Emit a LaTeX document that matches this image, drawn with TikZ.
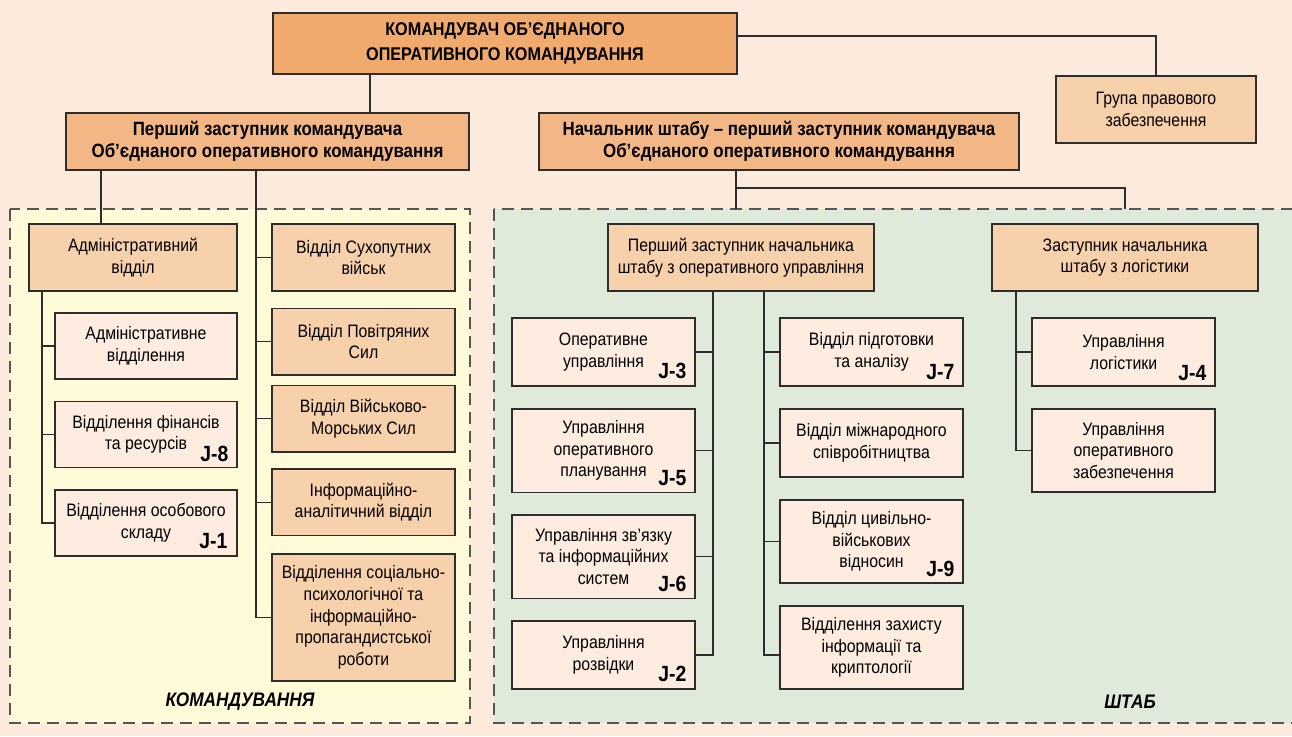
\documentclass[tikz,border=0pt]{standalone}
\usepackage{fontspec}
\setmainfont{Liberation Sans}[FakeStretch=0.88]
\usepackage{xcolor}
\usetikzlibrary{calc}
\definecolor{PageBg}{RGB}{252,235,221}
\definecolor{CmdBg}{RGB}{255,250,215}
\definecolor{StaffBg}{RGB}{224,234,219}
\definecolor{TopCol}{RGB}{240,170,110}
\definecolor{DepCol}{RGB}{243,183,133}
\definecolor{SecCol}{RGB}{247,208,172}
\definecolor{LeafCol}{RGB}{253,236,223}
\definecolor{RuleCol}{RGB}{45,45,45}
\definecolor{DashCol}{RGB}{85,85,85}
\tikzset{
  ocbox/.style={draw=RuleCol, line width=0.75pt, align=center, inner sep=0pt, font=\fontsize{9}{10.8}\selectfont},
  octop/.style={ocbox, fill=TopCol, font=\bfseries\fontsize{9.2}{12.3}\selectfont},
  ocdep/.style={ocbox, fill=DepCol, font=\bfseries\fontsize{9.6}{10.8}\selectfont},
  ocsec/.style={ocbox, fill=SecCol},
  ocleaf/.style={ocbox, fill=LeafCol},
  ocline/.style={draw=RuleCol, line width=0.65pt},
  ocpanel/.style={draw=DashCol, line width=0.75pt, dash pattern=on 6pt off 3.5pt},
  ocj/.style={font=\bfseries\fontsize{11}{11}\selectfont, inner sep=0pt, anchor=base east},
  ocarea/.style={font=\bfseries\itshape\fontsize{9.8}{9.8}\selectfont, inner sep=0pt}
}

\begin{document}
\begin{tikzpicture}[x=0.5pt,y=-0.5pt]
  \clip (0,0) rectangle (1292,736);
  \fill[PageBg] (0,0) rectangle (1292,736);
  \draw[ocpanel, fill=CmdBg] (10,209) rectangle (470,723);
  \draw[ocpanel, fill=StaffBg] (494,209) rectangle (1320,723);

  \node[octop, minimum width=232pt, minimum height=30.5pt] (top) at (505,43.5) {КОМАНДУВАЧ ОБ’ЄДНАНОГО\\ОПЕРАТИВНОГО КОМАНДУВАННЯ};
  \node[ocdep, minimum width=201.5pt, minimum height=28.5pt] (fdep) at (267.5,141.5) {Перший заступник командувача\\Об’єднаного оперативного командування};
  \node[ocdep, minimum width=240pt, minimum height=28.5pt] (cos) at (779,141.5) {Начальник штабу – перший заступник командувача\\Об’єднаного оперативного командування};
  \node[ocsec, minimum width=100pt, minimum height=33.5pt] (legal) at (1156,109.5) {Група правового\\забезпечення};

  \node[ocsec, minimum width=104pt, minimum height=33.5pt] (admin) at (133,257.5) {Адміністративний\\відділ};
  \node[ocleaf, minimum width=91pt, minimum height=33pt] (a1) at (146,346) {Адміністративне\\відділення};
  \node[ocleaf, minimum width=91pt, minimum height=33pt] (a2) at (146,434.5) {Відділення фінансів\\та ресурсів};
  \node[ocleaf, minimum width=91pt, minimum height=33pt] (a3) at (146,523) {Відділення особового\\складу};
  \node[ocsec, minimum width=91.5pt, minimum height=33.5pt] (c1) at (363.5,257.5) {Відділ Сухопутних\\військ};
  \node[ocsec, minimum width=91.5pt, minimum height=33.25pt] (c2) at (363.5,341.75) {Відділ Повітряних\\Сил};
  \node[ocsec, minimum width=91.5pt, minimum height=33.25pt] (c3) at (363.5,418.75) {Відділ Військово-\\Морських Сил};
  \node[ocsec, minimum width=91.5pt, minimum height=33.25pt] (c4) at (363.5,502.25) {Інформаційно-\\аналітичний відділ};
  \node[ocsec, minimum width=91.5pt, minimum height=63.5pt] (c5) at (363.5,617.5) {Відділення соціально-\\психологічної та\\інформаційно-\\пропагандистської\\роботи};
  \node[ocarea] (cmd) at (240,702) {КОМАНДУВАННЯ};

  \node[ocsec, minimum width=133pt, minimum height=33.5pt] (ops) at (741,257.5) {Перший заступник начальника\\штабу з оперативного управління};
  \node[ocsec, minimum width=133pt, minimum height=33.5pt] (log) at (1125,257.5) {Заступник начальника\\штабу з логістики};
  \node[ocleaf, minimum width=91.5pt, minimum height=34pt] (s1) at (603.5,352) {Оперативне\\управління};
  \node[ocleaf, minimum width=91.5pt, minimum height=41.75pt] (s2) at (603.5,450.5) {Управління\\оперативного\\планування};
  \node[ocleaf, minimum width=91.5pt, minimum height=41.75pt] (s3) at (603.5,556.5) {Управління зв’язку\\та інформаційних\\систем};
  \node[ocleaf, minimum width=91.5pt, minimum height=34pt] (s4) at (603.5,655) {Управління\\розвідки};
  \node[ocleaf, minimum width=91.5pt, minimum height=34pt] (t1) at (871.5,352) {Відділ підготовки\\та аналізу};
  \node[ocleaf, minimum width=91.5pt, minimum height=34pt] (t2) at (871.5,443) {Відділ міжнародного\\співробітництва};
  \node[ocleaf, minimum width=91.5pt, minimum height=41.5pt] (t3) at (871.5,541.5) {Відділ цивільно-\\військових\\відносин};
  \node[ocleaf, minimum width=91.5pt, minimum height=41.5pt] (t4) at (871.5,647.5) {Відділення захисту\\інформації та\\криптології};
  \node[ocleaf, minimum width=91.5pt, minimum height=34pt] (l1) at (1123.5,352) {Управління\\логістики};
  \node[ocleaf, minimum width=91.5pt, minimum height=41.5pt] (l2) at (1123.5,450.5) {Управління\\оперативного\\забезпечення};
  \node[ocarea] (staff) at (1130,702) {ШТАБ};

  \node[ocj] (j8) at ($(a2.south east)+(-9,-7)$) {J-8};
  \node[ocj] (j1) at ($(a3.south east)+(-10,-8)$) {J-1};
  \node[ocj] (j3) at ($(s1.south east)+(-9,-8)$) {J-3};
  \node[ocj] (j5) at ($(s2.south east)+(-9,-8)$) {J-5};
  \node[ocj] (j6) at ($(s3.south east)+(-9,-8)$) {J-6};
  \node[ocj] (j2) at ($(s4.south east)+(-9,-8)$) {J-2};
  \node[ocj] (j7) at ($(t1.south east)+(-9,-7)$) {J-7};
  \node[ocj] (j9) at ($(t3.south east)+(-9,-7)$) {J-9};
  \node[ocj] (j4) at ($(l1.south east)+(-9,-6)$) {J-4};

  \coordinate (kTop) at (370,0);
  \coordinate (kLeg) at (1156,36);
  \coordinate (kAdm) at (101,0);
  \coordinate (kCol) at (256,0);
  \coordinate (kSub) at (42,0);
  \coordinate (kBus) at (736,188);
  \coordinate (kCut) at (736,209);
  \coordinate (kOps) at (713,0);
  \coordinate (kTr) at (764,0);
  \coordinate (kLog) at (1016,0);

  \draw[ocline] (top.south -| kTop) -- (fdep.north -| kTop);
  \draw[ocline] (top.east |- kLeg) -- (kLeg) -- (legal.north);
  \draw[ocline] (fdep.south -| kAdm) -- (admin.north -| kAdm);
  \draw[ocline] (fdep.south -| kCol) |- (c5.west);
  \foreach \n in {c1,c2,c3,c4} \draw[ocline] (\n.west -| kCol) -- (\n.west);
  \draw[ocline] (admin.south -| kSub) |- (a3.west);
  \foreach \n in {a1,a2} \draw[ocline] (\n.west -| kSub) -- (\n.west);
  \draw[ocline] (cos.south -| kBus) -- (kCut);
  \draw[ocline] (kBus) -| (log.north |- kCut);
  \draw[ocline] (ops.south -| kOps) |- (s4.east);
  \foreach \n in {s1,s2,s3} \draw[ocline] (\n.east -| kOps) -- (\n.east);
  \draw[ocline] (ops.south -| kTr) |- ($(t4.west)+(0,7.5)$);
  \foreach \n in {t1,t2,t3} \draw[ocline] (\n.west -| kTr) -- (\n.west);
  \draw[ocline] (log.south -| kLog) |- (l2.west);
  \draw[ocline] (l1.west -| kLog) -- (l1.west);
\end{tikzpicture}
\end{document}
